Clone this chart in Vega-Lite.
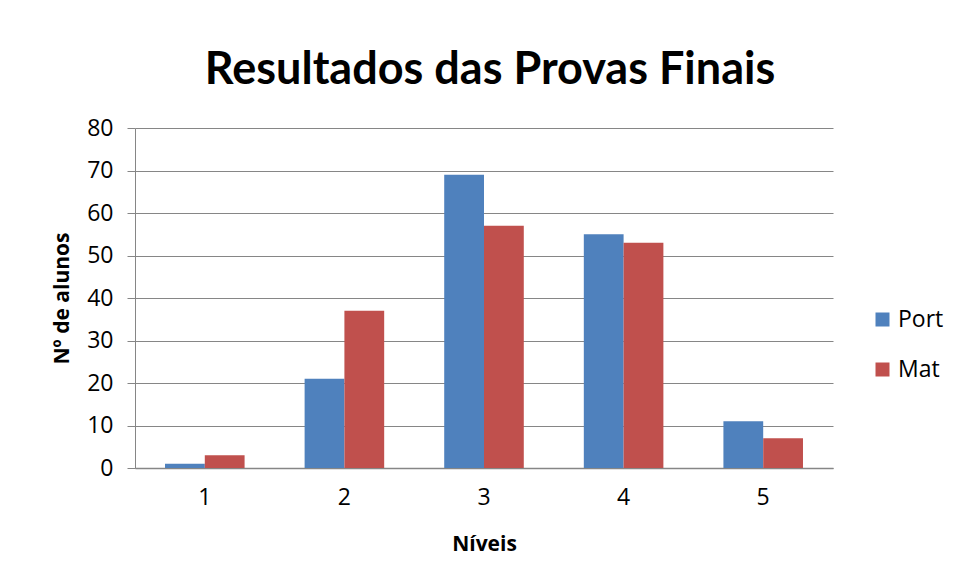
{
  "$schema": "https://vega.github.io/schema/vega-lite/v6.json",
  "autosize": "none",
  "width": 698,
  "height": 340,
  "padding": {"left": 135, "top": 128, "right": 124, "bottom": 115},
  "background": "white",
  "title": {
    "text": "Resultados das Provas Finais",
    "font": "Lato",
    "fontSize": 45,
    "fontWeight": "bold",
    "color": "#000000",
    "anchor": "middle",
    "offset": 24,
    "dx": 6
  },
  "data": {
    "values": [
      {"nivel": "1", "serie": "Port", "alunos": 1},
      {"nivel": "1", "serie": "Mat", "alunos": 3},
      {"nivel": "2", "serie": "Port", "alunos": 21},
      {"nivel": "2", "serie": "Mat", "alunos": 37},
      {"nivel": "3", "serie": "Port", "alunos": 69},
      {"nivel": "3", "serie": "Mat", "alunos": 57},
      {"nivel": "4", "serie": "Port", "alunos": 55},
      {"nivel": "4", "serie": "Mat", "alunos": 53},
      {"nivel": "5", "serie": "Port", "alunos": 11},
      {"nivel": "5", "serie": "Mat", "alunos": 7}
    ]
  },
  "mark": {"type": "bar"},
  "encoding": {
    "x": {
      "field": "nivel",
      "type": "nominal",
      "scale": {"paddingInner": 0.43, "paddingOuter": 0.215},
      "axis": {
        "title": "Níveis",
        "titleFont": "Open Sans",
        "titleFontSize": 21,
        "titleFontWeight": "bold",
        "titleColor": "#000",
        "titlePadding": 24,
        "labelAngle": 0,
        "labelFont": "Open Sans",
        "labelFontSize": 23,
        "labelColor": "#000",
        "labelPadding": 18,
        "ticks": false,
        "domainColor": "#868686",
        "domainWidth": 1.5
      }
    },
    "xOffset": {
      "field": "serie",
      "type": "nominal",
      "sort": ["Port", "Mat"],
      "scale": {"paddingInner": 0, "paddingOuter": 0}
    },
    "y": {
      "field": "alunos",
      "type": "quantitative",
      "scale": {"domain": [0, 80]},
      "axis": {
        "title": "Nº de alunos",
        "titleFont": "Open Sans",
        "titleFontSize": 21,
        "titleFontWeight": "bold",
        "titleColor": "#000",
        "titlePadding": 14,
        "values": [0, 10, 20, 30, 40, 50, 60, 70, 80],
        "labelFont": "Open Sans",
        "labelFontSize": 23,
        "labelColor": "#000",
        "labelPadding": 14,
        "tickSize": 8,
        "tickColor": "#868686",
        "grid": true,
        "gridColor": "#868686",
        "gridWidth": 1,
        "domain": true,
        "domainColor": "#868686"
      }
    },
    "color": {
      "field": "serie",
      "type": "nominal",
      "sort": ["Port", "Mat"],
      "scale": {"domain": ["Port", "Mat"], "range": ["#4F81BD", "#C0504D"]},
      "legend": {
        "title": null,
        "orient": "none",
        "legendX": 736,
        "legendY": 180,
        "symbolType": "square",
        "symbolSize": 196,
        "symbolStrokeWidth": 0,
        "labelFont": "Open Sans",
        "labelFontSize": 23,
        "labelColor": "#000",
        "rowPadding": 26,
        "labelOffset": 4
      }
    }
  },
  "config": {
    "view": {"stroke": null}
  }
}
